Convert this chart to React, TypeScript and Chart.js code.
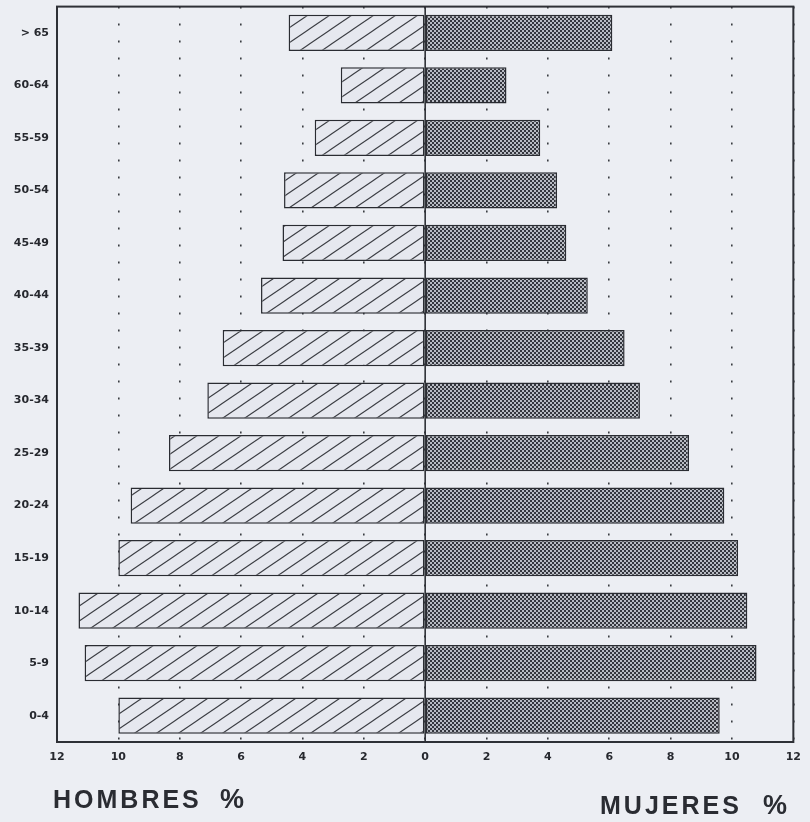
import React, { useEffect, useRef } from "react";
import { Chart, registerables } from "chart.js";

Chart.register(...registerables);

const categories = ["> 65", "60-64", "55-59", "50-54", "45-49", "40-44", "35-39", "30-34", "25-29", "20-24", "15-19", "10-14", "5-9", "0-4"];
const hombres = [4.45, 2.75, 3.6, 4.6, 4.65, 5.35, 6.6, 7.1, 8.35, 9.6, 10.0, 11.3, 11.1, 10.0];
const mujeres = [6.1, 2.65, 3.75, 4.3, 4.6, 5.3, 6.5, 7.0, 8.6, 9.75, 10.2, 10.5, 10.8, 9.6];
const xTicks = [-12, -10, -8, -6, -4, -2, 0, 2, 4, 6, 8, 10, 12];

function makeHatch(): CanvasPattern | string {
  const W = 22, H = 15;
  const c = document.createElement("canvas");
  c.width = W; c.height = H;
  const ctx = c.getContext("2d");
  if (!ctx) return "#e8eaf0";
  ctx.fillStyle = "#e6e8ef";
  ctx.fillRect(0, 0, W, H);
  ctx.strokeStyle = "#3a3c42";
  ctx.lineWidth = 1.1;
  for (let k = -1; k <= 1; k++) {
    ctx.beginPath();
    ctx.moveTo(-W, 2 * H + k * H);
    ctx.lineTo(2 * W, -H + k * H);
    ctx.stroke();
  }
  return ctx.createPattern(c, "repeat") || "#e8eaf0";
}

function makeChecker(): CanvasPattern | string {
  const c = document.createElement("canvas");
  c.width = 4; c.height = 4;
  const ctx = c.getContext("2d");
  if (!ctx) return "#555";
  ctx.fillStyle = "#34363d";
  ctx.fillRect(0, 0, 4, 4);
  ctx.fillStyle = "#b8bbc3";
  ctx.fillRect(0, 0, 2, 2);
  ctx.fillRect(2, 2, 2, 2);
  return ctx.createPattern(c, "repeat") || "#555";
}

const framePlugin = {
  id: "frame",
  afterDatasetsDraw(chart: any) {
    const { ctx, chartArea } = chart;
    const xs = chart.scales.x;
    const x0 = xs.getPixelForValue(0);
    ctx.save();
    ctx.strokeStyle = "#2e3036";
    ctx.lineWidth = 1.6;
    ctx.beginPath();
    ctx.moveTo(x0, chartArea.top);
    ctx.lineTo(x0, chartArea.bottom);
    ctx.stroke();
    ctx.lineWidth = 2;
    ctx.strokeRect(chartArea.left, chartArea.top, chartArea.right - chartArea.left, chartArea.bottom - chartArea.top);
    ctx.restore();
  },
};

export default function App() {
  const ref = useRef<HTMLCanvasElement | null>(null);
  useEffect(() => {
    if (!ref.current) return;
    const chart = new Chart(ref.current, {
      type: "bar",
      data: {
        labels: categories,
        datasets: [
          {
            label: "Hombres",
            data: hombres.map((v) => -v),
            backgroundColor: makeHatch() as any,
            borderColor: "#2a2c32",
            borderWidth: 1.5,
            borderSkipped: false,
            barPercentage: 0.69,
            categoryPercentage: 1,
          },
          {
            label: "Mujeres",
            data: mujeres,
            backgroundColor: makeChecker() as any,
            borderColor: "#2a2c32",
            borderWidth: 1.5,
            borderSkipped: false,
            barPercentage: 0.69,
            categoryPercentage: 1,
          },
        ],
      },
      options: {
        indexAxis: "y",
        responsive: false,
        animation: false,
        layout: { padding: { top: 1, right: 10, left: 0, bottom: 52 } },
        plugins: { legend: { display: false }, tooltip: { enabled: false } },
        scales: {
          x: {
            type: "linear",
            stacked: true,
            min: -12,
            max: 12,
            afterBuildTicks: (scale: any) => {
              scale.ticks = xTicks.map((v) => ({ value: v }));
            },
            afterFit: (scale: any) => {
              scale.height = 28;
            },
            ticks: {
              callback: (v: any) => String(Math.abs(Number(v))),
              font: { family: "DejaVu Sans", weight: "bold", size: 11 },
              color: "#26282e",
              padding: 9,
              maxRotation: 0,
              autoSkip: false,
            },
            grid: { color: "#3a3c42", lineWidth: 1.6, drawTicks: false },
            border: { display: false, dash: [2, 15] },
          },
          y: {
            stacked: true,
            afterFit: (scale: any) => {
              scale.width = 57;
            },
            ticks: {
              font: { family: "DejaVu Sans", weight: "bold", size: 11 },
              color: "#26282e",
              padding: 0,
            },
            grid: { display: false },
            border: { display: false },
          },
        },
      },
      plugins: [framePlugin],
    } as any);
    return () => chart.destroy();
  }, []);

  const titleStyle: React.CSSProperties = {
    position: "absolute",
    fontFamily: "'Liberation Sans', Arial, sans-serif",
    fontWeight: "bold",
    fontSize: 25,
    lineHeight: "25px",
    letterSpacing: 3,
    color: "#2a2c32",
    whiteSpace: "nowrap",
  };

  return (
    <div style={{ position: "fixed", left: 0, top: 0, width: 810, height: 822, background: "#eceef3", overflow: "hidden" }}>
      <canvas ref={ref} width={810} height={822} style={{ position: "absolute", left: 0, top: 0, width: 810, height: 822 }} />
      <div style={{ ...titleStyle, left: 53, top: 787 }}>HOMBRES</div>
      <div style={{ ...titleStyle, left: 220, top: 787, fontSize: 27 }}>%</div>
      <div style={{ ...titleStyle, left: 600, top: 793 }}>MUJERES</div>
      <div style={{ ...titleStyle, left: 763, top: 793, fontSize: 27 }}>%</div>
    </div>
  );
}
